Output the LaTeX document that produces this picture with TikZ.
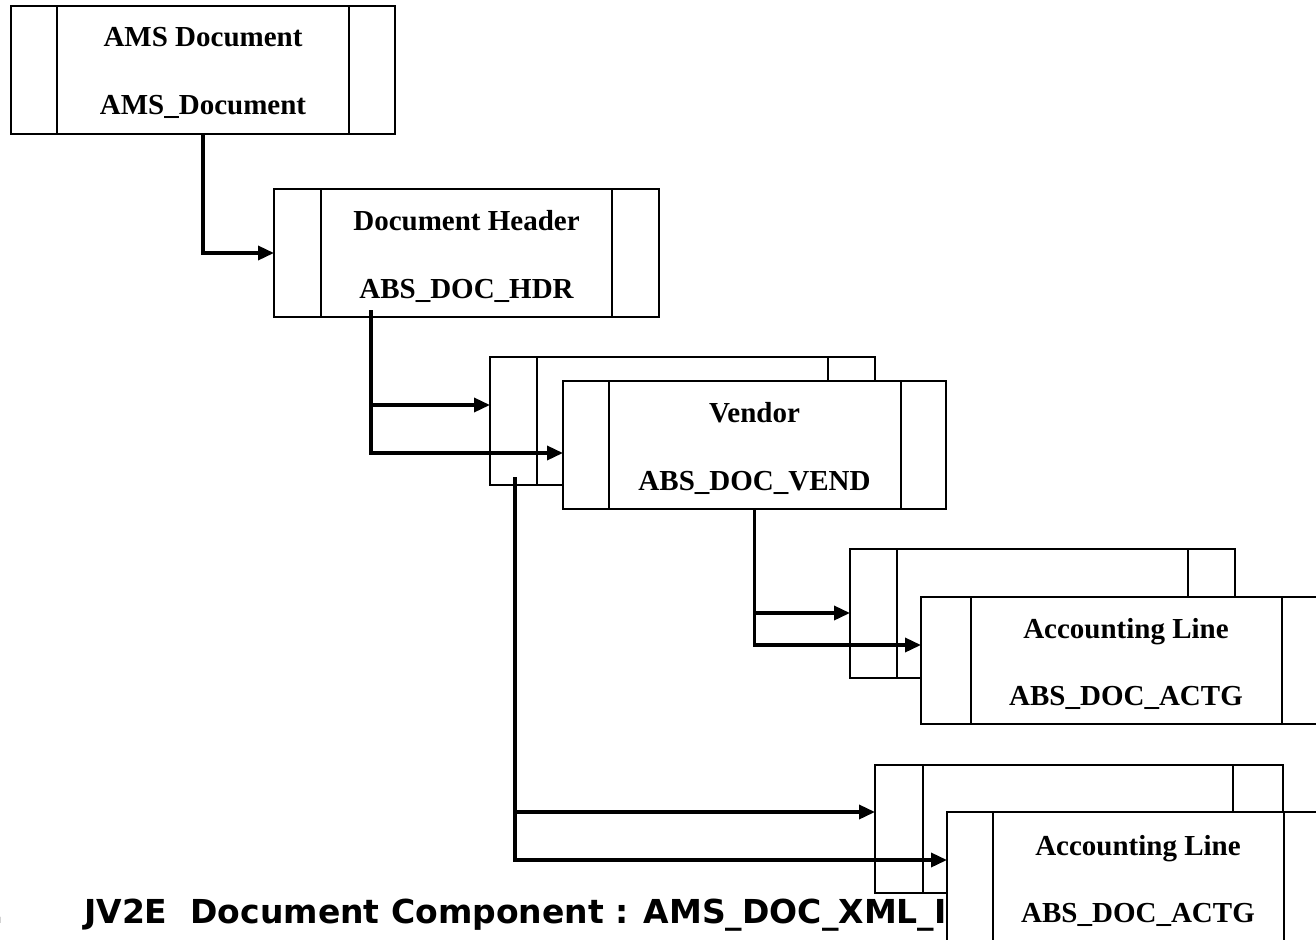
\documentclass[tikz,border=0pt]{standalone}
\usepackage{fontspec}
\setmainfont{Liberation Serif}
\newfontfamily\capfont{DejaVu Sans}
\usetikzlibrary{arrows.meta}
% vertical side bars inside a record box: #1 node, #2 left inset, #3 right inset
\newcommand\sidebars[3]{%
  \draw[bar] ([xshift=#2pt]#1.north west) -- ([xshift=#2pt]#1.south west);
  \draw[bar] ([xshift=-#3pt]#1.north east) -- ([xshift=-#3pt]#1.south east);}
\begin{document}
\begin{tikzpicture}[x=1pt,y=-1pt,
  rec/.style={draw, line width=2pt, fill=white, inner sep=0pt, outer sep=0pt,
              anchor=north west, minimum height=128pt},
  bar/.style={line width=2pt},
  lbl/.style={font=\fontsize{29}{29}\selectfont\bfseries, inner sep=0pt, anchor=base},
  capt/.style={font=\capfont\bfseries\fontsize{33}{33}\selectfont, inner sep=0pt},
  conn/.style={line width=3.5pt, -{Triangle[length=16pt,width=14pt]}}]
\useasboundingbox (0,0) rectangle (1316,939);

% caption line
\node[capt, anchor=base east] (num) at (4,923) {1.};
\node[capt, anchor=base west] (caption) at (84,923) {JV2E\ \ Document Component : AMS\_DOC\_XML\_I};

% top record
\node[rec, minimum width=384pt] (ams) at (11,6) {};
\sidebars{ams}{46}{46}
\node[lbl] (amsA) at ([yshift=-41pt]ams.north) {AMS Document};
\node[lbl] (amsB) at ([yshift=-109pt]ams.north) {AMS\_Document};

% header record
\node[rec, minimum width=385pt] (hdr) at (274,189) {};
\sidebars{hdr}{47}{47}
\node[lbl] (hdrA) at ([yshift=-41pt]hdr.north) {Document Header};
\node[lbl] (hdrB) at ([yshift=-109pt]hdr.north) {ABS\_DOC\_HDR};

% vendor stack
\node[rec, minimum width=385pt] (vendB) at (490,357) {};
\sidebars{vendB}{47}{47}
\node[rec, minimum width=383pt] (vend) at (563,381) {};
\sidebars{vend}{46}{45}
\node[lbl] (vendA) at ([yshift=-41pt]vend.north) {Vendor};
\node[lbl] (vendL) at ([yshift=-109pt]vend.north) {ABS\_DOC\_VEND};

% accounting line stack under vendor
\node[rec, minimum width=385pt, minimum height=129pt] (actgB1) at (850,549) {};
\sidebars{actgB1}{47}{47}
\node[rec, minimum width=410pt, minimum height=127pt] (actg1) at (921,597) {};
\sidebars{actg1}{50}{49}
\node[lbl] (actg1A) at ([yshift=-41pt]actg1.north) {Accounting Line};
\node[lbl] (actg1B) at ([yshift=-108pt]actg1.north) {ABS\_DOC\_ACTG};

% accounting line stack under vendor stack (runs past the lower edge)
\node[rec, minimum width=408pt] (actgB2) at (875,765) {};
\sidebars{actgB2}{48}{50}
\node[rec, minimum width=382pt, minimum height=150pt] (actg2) at (947,812) {};
\sidebars{actg2}{46}{45}
\node[lbl] (actg2A) at ([yshift=-43pt]actg2.north) {Accounting Line};
\node[lbl] (actg2B) at ([yshift=-110pt]actg2.north) {ABS\_DOC\_ACTG};

% connectors
\draw[conn] (ams.south) |- (hdr.west);

\coordinate (h0) at ([xshift=97pt,yshift=7pt]hdr.south west);
\draw[conn] (h0) |- ([yshift=-48pt]vendB.north west);
\draw[conn] (h0) |- ([yshift=-72pt]vend.north west);

\draw[conn] (vend.south) |- ([yshift=-64pt]actgB1.north west);
\draw[conn] (vend.south) |- ([yshift=-48pt]actg1.north west);

\coordinate (v0) at ([xshift=25pt,yshift=8pt]vendB.south west);
\draw[conn] (v0) |- ([yshift=-47pt]actgB2.north west);
\draw[conn] (v0) |- ([yshift=-48pt]actg2.north west);
\end{tikzpicture}
\end{document}
